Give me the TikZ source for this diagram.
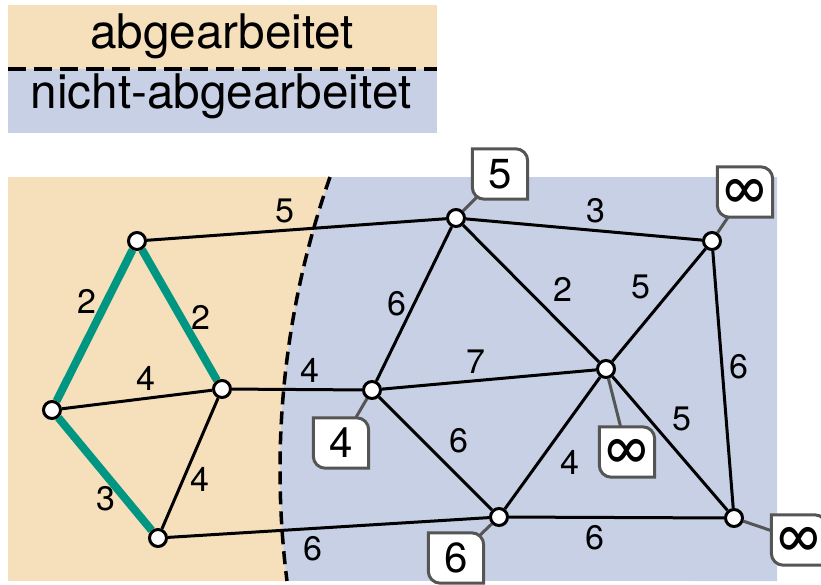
\documentclass[tikz,border=0pt]{standalone}
\usepackage{fontspec}
\setmainfont{TeX Gyre Heros}
\usetikzlibrary{positioning}
\definecolor{beige}{RGB}{246,224,188}
\definecolor{blau}{RGB}{200,208,230}
\definecolor{gruen}{RGB}{0,150,130}
\definecolor{grau}{RGB}{85,85,85}
\pgfdeclarelayer{hinten}
\pgfdeclarelayer{kanten}
\pgfsetlayers{hinten,kanten,main}
\newcommand{\unendlich}{{\fontsize{56}{56}\selectfont ∞}}

\begin{document}
\begin{tikzpicture}[x=1pt,y=-1pt,
  knoten/.style={draw,circle,fill=white,line width=3pt,minimum size=17pt,inner sep=0pt},
  kante/.style={line width=3pt},
  baum/.style={line width=8pt,draw=gruen},
  zahl/.style={font=\fontsize{34}{34}\selectfont,inner sep=6pt},
  marke/.style={minimum width=55pt,minimum height=50pt,inner sep=0pt,font=\fontsize{42}{42}\selectfont},
  stiel/.style={draw=grau,line width=3pt},
  rand/.style={draw=grau,fill=white,line width=3pt},
  grenze/.style={dash pattern=on 13pt off 7pt,line width=3.5pt},
  legende/.style={font=\fontsize{47.7}{48}\selectfont,inner sep=0pt}
]
\useasboundingbox (0,0) rectangle (821,584);

% Legende
\fill[beige] (8,5) rectangle (437,69);
\fill[blau] (8,69) rectangle (437,133);
\draw[dash pattern=on 18pt off 8pt,line width=4pt] (8,69) -- (437,69);
\node[legende] (ab)  at (222,36) {abgearbeitet};
\node[legende] (nab) at (221,96) {nicht-abgearbeitet};

% Flaechen
\begin{pgfonlayer}{hinten}
  \fill[beige] (8,177) rectangle (777,581);
  \fill[blau] (330.03,177) arc[start angle=199.38,end angle=172.78,radius=883]
    -- (777,581) -- (777,177) -- cycle;
  \draw[grenze] (330.03,177) arc[start angle=199.38,end angle=172.78,radius=883];
\end{pgfonlayer}

% Knoten
\node[knoten] (a) at (137,241) {};
\node[knoten] (b) at (52,410) {};
\node[knoten] (c) at (222,389) {};
\node[knoten] (d) at (158,538) {};
\node[knoten] (e) at (456,218) {};
\node[knoten] (f) at (372,390) {};
\node[knoten] (g) at (606,369) {};
\node[knoten] (h) at (712,241) {};
\node[knoten] (i) at (499,517) {};
\node[knoten] (j) at (734,518) {};

% Marken
\node[marke] (m5) at (500,174) {5};
\node[marke] (mh) at (745,192) {\unendlich};
\node[marke] (mf) at (341,443) {4};
\node[marke] (mg) at (627,452) {\unendlich};
\node[marke] (mi) at (456,558) {6};
\node[marke] (mj) at (799,540) {\unendlich};

\begin{pgfonlayer}{kanten}
  \draw[kante] (a) -- node[zahl,pos=.46,above] {5} (e);
  \draw[baum]  (a) -- node[zahl,pos=.34,left] {2} (b);
  \draw[baum]  (a) -- node[zahl,pos=.52,right] {2} (c);
  \draw[kante] (b) -- node[zahl,pos=.56,above] {4} (c);
  \draw[baum]  (b) -- node[zahl,pos=.72,left] {3} (d);
  \draw[kante] (c) -- node[zahl,pos=.62,right] {4} (d);
  \draw[kante] (c) -- node[zahl,pos=.6,above] {4} (f);
  \draw[kante] (d) -- node[zahl,pos=.45,below] {6} (i);
  \draw[kante] (e) -- node[zahl,pos=.55,above] {3} (h);
  \draw[kante] (e) -- node[zahl,pos=.5,left] {6} (f);
  \draw[kante] (e) -- node[zahl,pos=.61,above right] {2} (g);
  \draw[kante] (f) -- node[zahl,pos=.44,above] {7} (g);
  \draw[kante] (f) -- node[zahl,pos=.56,above right] {6} (i);
  \draw[kante] (g) -- node[zahl,pos=.49,above left] {5} (h);
  \draw[kante] (g) -- node[zahl,pos=.5,below right] {4} (i);
  \draw[kante] (g) -- node[zahl,pos=.46,above right] {5} (j);
  \draw[kante] (h) -- node[zahl,pos=.45,right] {6} (j);
  \draw[kante] (i) -- node[zahl,pos=.4,below] {6} (j);

  \draw[stiel] (e) -- (m5.center);
  \draw[stiel] (h) -- (mh.center);
  \draw[stiel] (f) -- (mf.center);
  \draw[stiel] (g) -- (mg.center);
  \draw[stiel] (i) -- (mi.center);
  \draw[stiel] (j) -- (mj.center);

  \foreach \m in {m5,mh,mf,mg,mi,mj}
    \draw[rand] (\m.north west) -- ([xshift=-12pt]\m.north east)
      arc[start angle=90,end angle=0,radius=12pt] -- (\m.south east)
      -- ([xshift=12pt]\m.south west) arc[start angle=270,end angle=180,radius=12pt] -- cycle;
\end{pgfonlayer}
\end{tikzpicture}
\end{document}
